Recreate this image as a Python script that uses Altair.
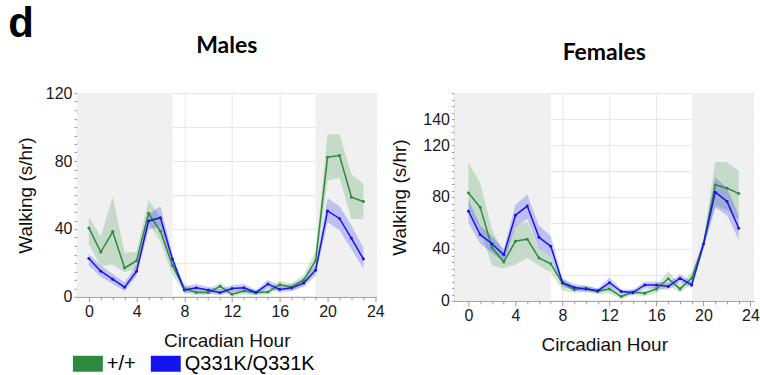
import altair as alt
import pandas as pd

# ---- data -------------------------------------------------------------
hours = list(range(24))
genotypes = ["+/+", "Q331K/Q331K"]
colors = ["#2e8b3e", "#1414f0"]

# Males: walking time per hour (s/hr), mean with shaded error band
male_wt_mean = [40.6, 26.4, 38.3, 17.0, 21.3, 49.2, 38.7, 18.5, 4.9, 2.5, 2.5, 6.2,
                1.5, 3.4, 2.5, 2.8, 7.2, 5.7, 10.0, 21.3, 82.3, 83.2, 58.7, 56.2]
male_wt_lo = [31, 18, 19, 14.7, 16.6, 44, 32.6, 12.8, 2.5, 0.8, 1, 4,
              0, 1.5, 1, 1.2, 5, 3.5, 7, 16, 68.5, 70, 45.8, 45.8]
male_wt_hi = [47.2, 35.5, 59, 26, 26.4, 57.2, 46.8, 20.4, 7.5, 4.5, 4.5, 8.5,
              3.5, 5.5, 4, 4.5, 9.5, 8, 13, 27, 95.8, 95.8, 72, 66.6]
male_mut_mean = [22.6, 15.1, 10.4, 5.7, 15.1, 44.7, 46.6, 22.3, 4.0, 5.3, 4.0, 2.5,
                 4.9, 5.3, 2.5, 7.5, 4.3, 5.3, 8.1, 15.7, 50.6, 46.2, 34.5, 22.3]
male_mut_lo = [18.5, 11.9, 7.5, 3.4, 12.5, 39.6, 41.1, 19.4, 2, 3, 2, 1,
               3, 3, 1, 5, 2.5, 3.5, 6, 12.5, 44, 39.2, 28, 16.6]
male_mut_hi = [25.5, 18.5, 13.4, 8.5, 18.9, 48.7, 53.4, 25, 6, 7.5, 6, 4.5,
               7, 7.5, 4, 10, 6.5, 7.5, 10.5, 19, 58.1, 53.4, 42, 28.9]

# Females
female_wt_mean = [83, 72, 41, 30, 46, 47.5, 33, 28.5, 13.6, 8.5, 9.8, 7.2,
                  9.2, 3.3, 6.7, 5.9, 9.2, 17, 9.2, 17.5, 43.7, 89.4, 86.8, 82.7]
female_wt_lo = [70, 55, 27, 25, 28, 33, 27, 22, 8, 6, 7, 5,
                6, 1.5, 4.5, 3.5, 6, 12, 6.5, 13, 40, 73, 70, 62]
female_wt_hi = [106, 91, 55, 37, 58, 61, 40, 34, 17, 11, 12, 9.5,
                12, 5, 9, 8, 12, 23, 13, 22, 47, 107, 107, 100]
female_mut_mean = [69, 51, 44, 35.5, 66, 73, 49, 42, 14, 10.3, 9.2, 7.7,
                   14, 7.2, 6.4, 12.3, 12.3, 11, 17.5, 12.3, 43.7, 83.7, 76.5, 56]
female_mut_lo = [60, 44, 37, 30, 57, 63, 40, 34, 11, 8, 7, 6,
                 11, 5, 4.5, 9.5, 9.5, 8.5, 14.5, 10, 40, 72, 66, 47]
female_mut_hi = [78, 58, 50, 40, 74, 82, 58, 50, 17, 13, 11.5, 9.5,
                 18, 9, 8.5, 15, 15, 13.5, 20.5, 15, 47, 95, 87, 66]

# dark phase runs up to lights-on at hour 7 and from lights-off at hour 19
lights_on = 7
lights_off = 19

FONT = "Liberation Sans"


def long_frame(wt, wt_lo, wt_hi, mut, mut_lo, mut_hi):
    rows = []
    for g, m, lo, hi in ((genotypes[0], wt, wt_lo, wt_hi),
                         (genotypes[1], mut, mut_lo, mut_hi)):
        for h, a, b, c in zip(hours, m, lo, hi):
            rows.append({"hour": h, "genotype": g, "mean": a, "lo": b, "hi": c})
    return pd.DataFrame(rows)


color_scale = alt.Scale(domain=genotypes, range=colors)


def panel(df, title, x_dom, y_max, y_labels, height, ytitle_pad):
    xs = alt.Scale(domain=x_dom, nice=False, zero=False)
    ys = alt.Scale(domain=[0, y_max], nice=False, zero=True)
    label_test = " || ".join(f"datum.value === {v}" for v in y_labels)

    x_axis = alt.Axis(
        values=list(range(0, 25)),
        labelExpr="datum.value % 4 === 0 ? datum.label : ''",
        title="Circadian Hour",
        tickSize={"condition": {"test": "datum.value % 4 === 0", "value": 5}, "value": 3},
        gridOpacity={"condition": {"test": "datum.value % 4 === 0", "value": 1}, "value": 0},
        labelPadding=2,
        titlePadding=12,
    )
    y_axis = alt.Axis(
        values=list(range(0, int(y_max) + 1, 5)),
        labelExpr=f"({label_test}) ? datum.label : ''",
        title="Walking (s/hr)",
        tickSize=3,
        gridOpacity={"condition": {"test": "datum.value % 20 === 0", "value": 1}, "value": 0},
        labelPadding=2,
        titlePadding=ytitle_pad,
    )

    dark = pd.DataFrame({"start": [x_dom[0], lights_off], "end": [lights_on, x_dom[1]]})
    shade = alt.Chart(dark).mark_rect(color="#f0f0f0").encode(
        x=alt.X("start:Q", scale=xs, axis=x_axis),
        x2="end:Q",
        y=alt.value(0),
        y2=alt.value(height),
    )
    band = alt.Chart(df).mark_area(fillOpacity=0.22).encode(
        x=alt.X("hour:Q", scale=xs, axis=x_axis),
        y=alt.Y("lo:Q", scale=ys, axis=y_axis),
        y2="hi:Q",
        color=alt.Color("genotype:N", scale=color_scale,
                        legend=alt.Legend(title=None)),
    )
    line = alt.Chart(df).mark_line(
        strokeWidth=1.5, point=alt.OverlayMarkDef(size=9, filled=True)
    ).encode(
        x=alt.X("hour:Q", scale=xs, axis=x_axis),
        y=alt.Y("mean:Q", scale=ys, axis=y_axis),
        color=alt.Color("genotype:N", scale=color_scale, legend=None),
    )
    return alt.layer(shade, band, line).properties(width=300, height=height, title=title)


males_title = alt.TitleParams("Males", fontSize=23, font="Lato", fontWeight="bold",
                              offset=27, color="#000")
# a blank first line sets the header band height shared by both panels
females_title = alt.TitleParams(" ", fontSize=8, subtitle="Females", subtitleFontSize=23,
                                subtitleFont="Lato", subtitleFontWeight="bold",
                                subtitleColor="#000", subtitlePadding=0, offset=28)

males = panel(long_frame(male_wt_mean, male_wt_lo, male_wt_hi,
                         male_mut_mean, male_mut_lo, male_mut_hi),
              males_title, [-1, 24.1], 120, [0, 40, 80, 120], 204, 10)
females = panel(long_frame(female_wt_mean, female_wt_lo, female_wt_hi,
                           female_mut_mean, female_mut_lo, female_mut_hi),
                females_title, [-1.2, 24.3], 160, [0, 40, 80, 120, 140], 208, 13)

chart = alt.hconcat(
    males,
    females,
    spacing=6,
    title=alt.TitleParams("d", anchor="start", frame="bounds", fontSize=42,
                          font=FONT, fontWeight="bold", offset=-12, dx=-8, color="#000"),
).properties(
    padding={"left": 8, "top": 2, "right": 0, "bottom": 0}
).configure_view(
    stroke=None
).configure_axis(
    domainColor="#9a9a9a",
    tickColor="#9a9a9a",
    gridColor="#e6e6e6",
    labelFont=FONT,
    labelFontSize=16,
    labelColor="#1a1a1a",
    titleFont=FONT,
    titleFontSize=19,
    titleFontWeight="normal",
    titleColor="#111",
).configure_legend(
    orient="none",
    legendX=1,
    legendY=261,
    direction="horizontal",
    symbolType="M-1.5,-0.8H1.5V0.8H-1.5Z",
    symbolSize=400,
    symbolOpacity=1,
    symbolStrokeWidth=0,
    labelFont=FONT,
    labelFontSize=20,
    labelColor="#000",
    labelOffset=9,
    columnPadding=15,
)

chart.save("out.html", embed_options={"renderer": "svg", "actions": False})
